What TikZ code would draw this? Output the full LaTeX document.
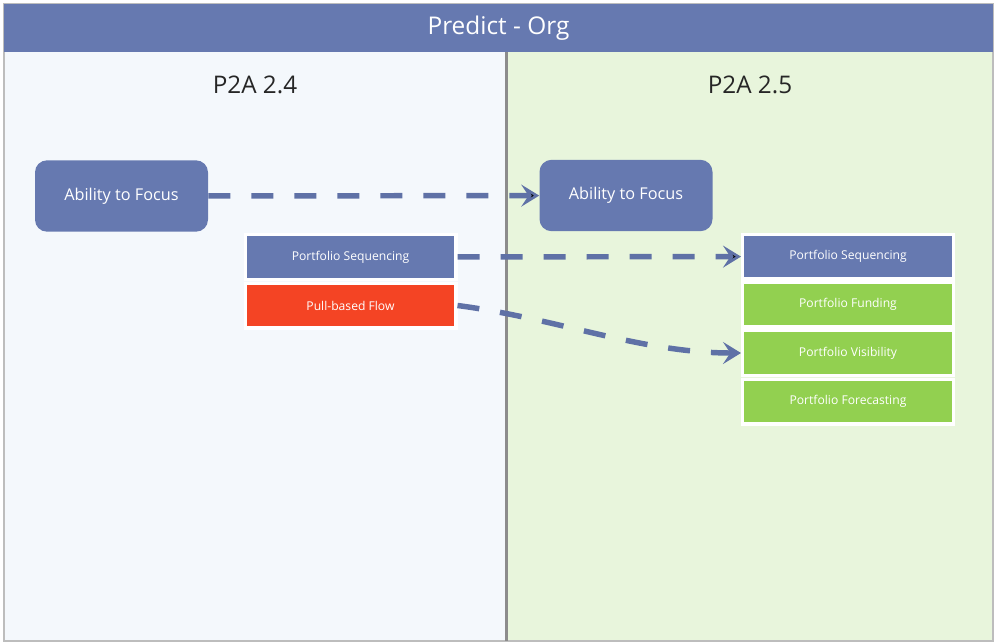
\documentclass[tikz,border=0pt]{standalone}
\usepackage{fontspec}
\setmainfont{Open Sans}
\usetikzlibrary{arrows.meta}
\definecolor{orgblue}{HTML}{6679B0}
\definecolor{flowblue}{HTML}{5F71A6}
\definecolor{orggreen}{HTML}{92D050}
\definecolor{orgred}{HTML}{F44424}
\definecolor{leftbg}{HTML}{F4F8FC}
\definecolor{rightbg}{HTML}{E8F5DC}
\definecolor{divgray}{HTML}{8C8C8C}
\definecolor{framegray}{HTML}{BDBDBD}

\begin{document}
\begin{tikzpicture}[x=0.75pt,y=-0.75pt,
  header node/.style={fill=orgblue,text=white,minimum width=741.75pt,minimum height=36pt,font=\fontsize{18.3}{22}\selectfont},
  version node/.style={text=black!85,font=\fontsize{18.2}{22}\selectfont},
  focus node/.style={rounded corners=9pt,fill=orgblue,text=white,minimum width=129.75pt,minimum height=53.5pt,font=\fontsize{12.2}{14}\selectfont},
  item node/.style={draw=white,line width=2.6pt,text=white,minimum width=157.9pt,minimum height=33.4pt,font=\fontsize{9.1}{11}\selectfont},
  flow/.style={draw=flowblue,line width=4.1pt,dash pattern=on 16.5pt off 15.75pt,-{Stealth[length=13.5pt,width=16.5pt,inset=5.5pt]}}]
  \useasboundingbox (0,0) rectangle (997,643);

  % panels
  \fill[leftbg] (4,52) rectangle (506,641);
  \fill[rightbg] (506,52) rectangle (993,641);
  \draw[framegray,line width=1pt] (4,4) rectangle (993,641);
  \draw[divgray,line width=2.25pt] (506,52) -- (506,641);

  \node[header node] (org) at (498.5,28) {Predict - Org};
  \node[version node] (v24) at (255,85) {P2A 2.4};
  \node[version node] (v25) at (750,85) {P2A 2.5};

  \node[focus node] (f0) at (121.5,196) {Ability to Focus};
  \node[focus node] (f1) at (626,195.5) {Ability to Focus};

  \node[item node,fill=orgblue] (s0) at (350.5,257) {Portfolio Sequencing};
  \node[item node,fill=orgred] (p0) at (350.5,305.5) {Pull-based Flow};

  \node[item node,fill=orgblue] (s1) at (848,256.5) {Portfolio Sequencing};
  \node[item node,fill=orggreen] (n1) at (848,304.5) {Portfolio Funding};
  \node[item node,fill=orggreen] (n2) at (848,353) {Portfolio Visibility};
  \node[item node,fill=orggreen] (n3) at (848,401.5) {Portfolio Forecasting};

  \path
  (f0) [flow] edge (f1)
  (s0) [flow] edge (s1);
  \draw[flow] (p0.east) .. controls +(100,13) and +(-100,0) .. (n2.west);
\end{tikzpicture}
\end{document}
